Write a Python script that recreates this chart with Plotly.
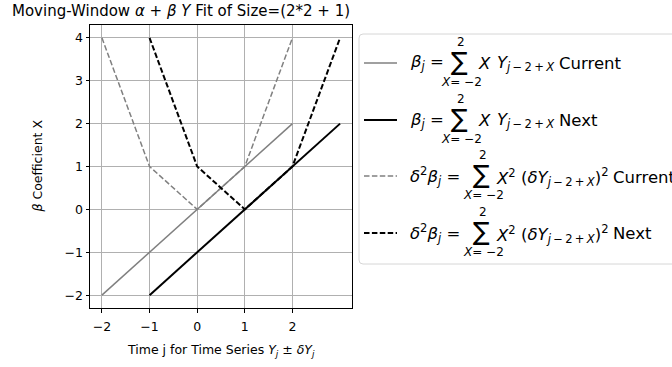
import plotly.graph_objects as go

# window offsets X = -2..2 for the current window (centred at j) and the next one
j_current = [-2, -1, 0, 1, 2]
j_next = [-1, 0, 1, 2, 3]
beta_current = [-2, -1, 0, 1, 2]
beta_next = [-2, -1, 0, 1, 2]
var_current = [4, 1, 0, 1, 4]
var_next = [4, 1, 0, 1, 4]

x_ticks = [-2, -1, 0, 1, 2]
y_ticks = [-2, -1, 0, 1, 2, 3, 4]

W, H = 672, 367
L, R, T, B = 90, 352, 25, 308  # plot area, window pixels
FONT = "DejaVu Sans"
LEG = 16.5
TS = "\u2009"  # thin space, as in mathtext


def px(x):
    return (x - L) / (R - L)


def py(y):
    return (B - y) / (B - T)


series = [
    (j_current, beta_current, "gray", 1.5, "solid"),
    (j_next, beta_next, "black", 2, "solid"),
    (j_current, var_current, "gray", 1.5, "5.5px,2.4px"),
    (j_next, var_next, "black", 2, "5.5px,2.4px"),
]

fig = go.Figure()
for xs, ys, color, width, dash in series:
    fig.add_trace(
        go.Scatter(
            x=xs,
            y=ys,
            mode="lines",
            line=dict(color=color, width=width, dash=dash),
            showlegend=False,
            hoverinfo="skip",
        )
    )

axis_common = dict(
    showline=True,
    linecolor="black",
    linewidth=1,
    mirror=True,
    ticks="outside",
    ticklen=3.5,
    tickcolor="black",
    showgrid=True,
    gridcolor="#b0b0b0",
    gridwidth=0.8,
    zeroline=False,
    tickfont=dict(family=FONT, size=12.5, color="black"),
)

fig.update_xaxes(range=[-2.25, 3.25], tickmode="array", tickvals=x_ticks,
                 ticklabelstandoff=3, **axis_common)
fig.update_yaxes(range=[-2.3, 4.3], tickmode="array", tickvals=y_ticks, **axis_common)

annotations = []


def note(x, y, text, size=LEG, anchor="left"):
    annotations.append(
        dict(
            x=px(x),
            y=py(y),
            xref="paper",
            yref="paper",
            text=text,
            showarrow=False,
            xanchor=anchor,
            yanchor="middle",
            font=dict(family=FONT, size=size, color="black"),
        )
    )


# title and axis labels
note(10, 11, "Moving-Window <i>α</i> + <i>β</i> <i>Y</i> Fit of Size=(2*2 + 1)", size=15)
note((L + R) / 2, 350, "Time j for Time Series <i>Y<sub>j</sub></i> ± <i>δY<sub>j</sub></i>", size=12.5, anchor="center")
annotations.append(
    dict(
        x=px(37), y=py((T + B) / 2), xref="paper", yref="paper",
        text="<i>β</i> Coefficient X", showarrow=False, textangle=-90,
        xanchor="center", yanchor="middle",
        font=dict(family=FONT, size=12.5, color="black"),
    )
)

# legend box
x0, x1, y0, y1, r = px(359), px(700), py(34), py(264), 4
rx, ry = r / (R - L), r / (B - T)
shapes = [
    dict(
        type="path", xref="paper", yref="paper",
        path=(f"M {x0 + rx},{y0} L {x1},{y0} L {x1},{y1} L {x0 + rx},{y1} "
              f"Q {x0},{y1} {x0},{y1 + ry} L {x0},{y0 - ry} Q {x0},{y0} {x0 + rx},{y0} Z"),
        line=dict(color="#d6d6d6", width=1), fillcolor="white", layer="above",
    )
]

sub = f"<sub><i>j</i>{TS}−{TS}2{TS}+{TS}<i>X</i></sub>"
beta_lhs = "<i>β<sub>j</sub></i> ="
var_lhs = "<i>δ</i><sup>2</sup><i>β<sub>j</sub></i> ="
# (row centre y, lhs, sum centre x, [(x, text), ...])
entries = [
    (63, beta_lhs, 459, [(476, "<i>X</i>"), (495, "<i>Y</i>" + sub), (557, "Current")]),
    (120, beta_lhs, 459, [(476, "<i>X</i>"), (495, "<i>Y</i>" + sub), (557, "Next")]),
    (176, var_lhs, 481, [(494, "<i>X</i><sup>2</sup>"), (519, "(<i>δY</i>" + sub + ")<sup>2</sup>"),
                         (611, "Current")]),
    (233, var_lhs, 481, [(494, "<i>X</i><sup>2</sup>"), (519, "(<i>δY</i>" + sub + ")<sup>2</sup>"),
                         (611, "Next")]),
]

for (_, _, color, width, dash), (ey, lhs, sx, parts) in zip(series, entries):
    shapes.append(
        dict(
            type="line", xref="paper", yref="paper",
            x0=px(364), x1=px(397), y0=py(ey), y1=py(ey),
            line=dict(color=color, width=width, dash=dash), layer="above",
        )
    )
    note(408, ey, lhs)
    note(sx, ey - 2, "∑", size=25, anchor="center")
    note(sx + 2, ey - 21, "2", size=12, anchor="center")
    note(sx + 2, ey + 19, "<i>X</i>= −2", size=12, anchor="center")
    for x, text in parts:
        note(x, ey + 1, text)

fig.update_layout(
    width=W,
    height=H,
    margin=dict(l=L, r=W - R, t=T, b=H - B),
    plot_bgcolor="white",
    paper_bgcolor="white",
    shapes=shapes,
    annotations=annotations,
)

# drop the browser's default body margin so the figure sits at the window corner
fig.write_html("out.html", config={"displayModeBar": False},
               post_script="document.body.style.margin = '0';")
